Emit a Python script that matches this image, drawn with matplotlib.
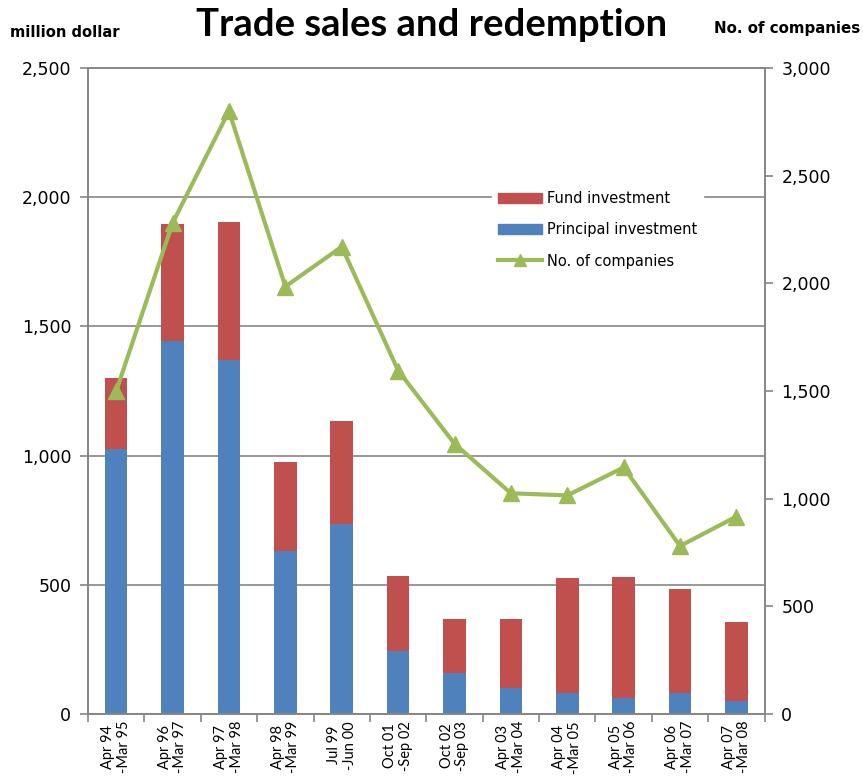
import matplotlib.pyplot as plt
import numpy as np
from matplotlib.ticker import FuncFormatter, FixedLocator
from matplotlib.patches import Patch
from matplotlib.lines import Line2D

periods = ['Apr 94\n-Mar 95', 'Apr 96\n-Mar 97', 'Apr 97\n-Mar 98', 'Apr 98\n-Mar 99',
           'Jul 99\n-Jun 00', 'Oct 01\n-Sep 02', 'Oct 02\n-Sep 03', 'Apr 03\n-Mar 04',
           'Apr 04\n-Mar 05', 'Apr 05\n-Mar 06', 'Apr 06\n-Mar 07', 'Apr 07\n-Mar 08']
principal = [1025, 1445, 1370, 630, 735, 242, 160, 100, 82, 62, 83, 50]
fund = [275, 450, 535, 345, 397, 293, 207, 268, 444, 468, 399, 306]
companies = [1500, 2280, 2800, 1985, 2170, 1595, 1255, 1025, 1015, 1145, 780, 917]

blue = '#4F81BD'
red = '#C0504D'
green = '#9BBB59'
grey = '#868686'

plt.rcParams['font.family'] = ['DejaVu Sans']

fig = plt.figure(figsize=(8.63, 7.78), dpi=100)
ax = fig.add_axes([0.102, 0.0823, 0.784, 0.8303])
x = np.arange(len(periods))

ax.bar(x, principal, width=0.4, color=blue, zorder=2)
ax.bar(x, fund, width=0.4, bottom=principal, color=red, zorder=2)

ax.set_xlim(-0.5, len(periods) - 0.5)
ax.set_ylim(0, 2500)
ax.set_yticks(np.arange(0, 2501, 500))
ax.yaxis.set_major_formatter(FuncFormatter(lambda v, p: f'{int(v):,}'))
ax.grid(axis='y', color=grey, linewidth=1.2, zorder=0)
ax.set_axisbelow(True)

ax.set_xticks(x)
ax.set_xticklabels(periods, rotation=90, fontsize=10.5, multialignment='center',
                   family='Lato', linespacing=1.15)
ax.tick_params(axis='x', which='major', length=0, pad=5)
ax.xaxis.set_minor_locator(FixedLocator(np.arange(-0.5, len(periods), 1)))
ax.tick_params(axis='x', which='minor', length=6, color=grey, width=1.2)
ax.tick_params(axis='y', length=6, color=grey, width=1.2, labelsize=12.5, pad=6)
for s in ax.spines.values():
    s.set_color(grey)
    s.set_linewidth(1.2)

ax2 = ax.twinx()
ax2.plot(x, companies, color=green, linewidth=3, marker='^', markersize=12, zorder=3)
ax2.set_ylim(0, 3000)
ax2.set_yticks(np.arange(0, 3001, 500))
ax2.yaxis.set_major_formatter(FuncFormatter(lambda v, p: f'{int(v):,}'))
ax2.tick_params(axis='y', length=6, color=grey, width=1.2, labelsize=12.5, pad=6)
for s in ax2.spines.values():
    s.set_color(grey)
    s.set_linewidth(1.2)

handles = [Patch(color=red), Patch(color=blue),
           Line2D([], [], color=green, linewidth=3, marker='^', markersize=8)]
labels = ['Fund investment', 'Principal investment', 'No. of companies']
leg = ax2.legend(handles, labels, loc='center left', bbox_to_anchor=(0.562, 0.7044),
                 bbox_transform=fig.transFigure,
                 frameon=True, fontsize=10.5, handlelength=3.0, handletextpad=0.35,
                 labelspacing=1.1, fancybox=False, edgecolor='white',
                 facecolor='white', framealpha=1)

fig.text(0.5, 0.968, 'Trade sales and redemption', ha='center', va='center',
         fontsize=27.5, fontweight='bold', family='Lato')
fig.text(0.012, 0.958, 'million dollar', ha='left', va='center', fontsize=10.6, fontweight='bold')
fig.text(0.997, 0.963, 'No. of companies', ha='right', va='center', fontsize=10.8, fontweight='bold')

fig.savefig('out.png', dpi=100)
